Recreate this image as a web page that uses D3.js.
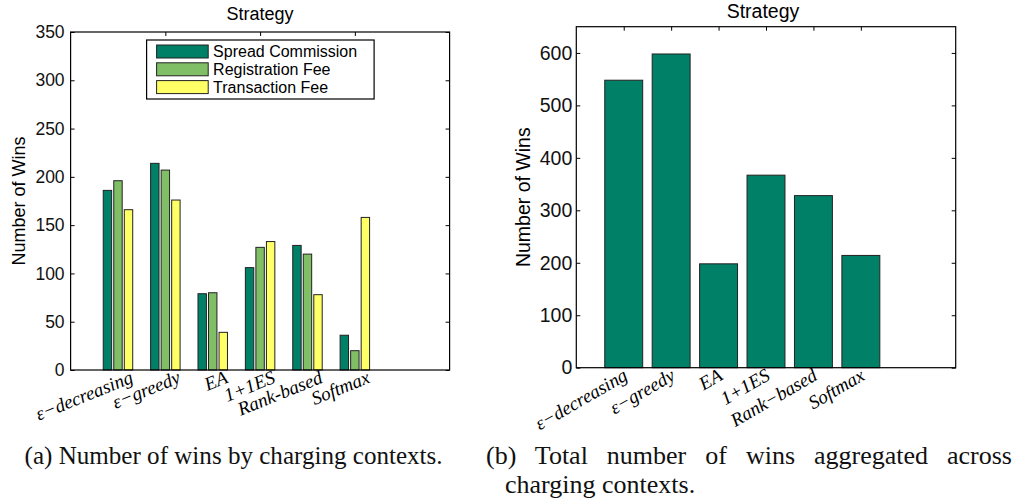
<!DOCTYPE html>
<html>
<head>
<meta charset="utf-8">
<script src="https://cdn.jsdelivr.net/npm/d3@7"></script>
<style>
  body { margin: 0; background: #fff; }
  svg { display: block; }
  .tick text { fill: #111; }
</style>
</head>
<body>
<script>
// datos
const strategies  = ["ε−decreasing", "ε−greedy", "EA", "1+1ES", "Rank-based", "Softmax"];
const strategiesB = ["ε−decreasing", "ε−greedy", "EA", "1+1ES", "Rank−based", "Softmax"];
const contexts = ["Spread Commission", "Registration Fee", "Transaction Fee"];

const spreadCommission = [186, 214, 79, 106, 129, 36];
const registrationFee  = [196, 207, 80, 127, 120, 20];
const transactionFee   = [166, 176, 39, 133, 78, 158];
const totalWins        = [548, 598, 198, 367, 328, 214];

const yTicksA = [0, 50, 100, 150, 200, 250, 300, 350];
const yTicksB = [0, 100, 200, 300, 400, 500, 600];
const xTopTicksA = [2, 4, 6];
const xTopTicksB = [1, 2, 3, 4, 5, 6];

const colors = ["#008066", "#80bf66", "#ffff66"];   // colormap summer
const sans = "'Liberation Sans', Arial, sans-serif";
const serif = "'Liberation Serif', 'Times New Roman', serif";

const svg = d3.select("body").append("svg")
  .attr("width", 1014)
  .attr("height", 501);

// ---------- (a) barras agrupadas ----------
const a = { left: 70.6, top: 32, width: 379, height: 338 };
const gA = svg.append("g").attr("transform", `translate(${a.left},${a.top})`);

const xA = d3.scaleLinear().domain([0, 8]).range([0, a.width]);
const yA = d3.scaleLinear().domain([0, 350]).range([a.height, 0]);
const unitA = xA(1) - xA(0);
const groupW = 3 / 4.5;
const xInner = d3.scaleBand()
  .domain(contexts)
  .range([-groupW / 2 * unitA, groupW / 2 * unitA])
  .paddingInner(0.2)
  .paddingOuter(0.1);

function styleAxis(g, size) {
  g.select(".domain").remove();
  g.selectAll(".tick line").attr("stroke", "#000");
  g.selectAll(".tick text").attr("font-family", sans).attr("font-size", size);
}

gA.append("g")
  .call(d3.axisLeft(yA).tickValues(yTicksA).tickSizeInner(-4).tickSizeOuter(0).tickPadding(6))
  .call(styleAxis, 17.5);
gA.append("g")
  .attr("transform", `translate(${a.width},0)`)
  .call(d3.axisRight(yA).tickValues(yTicksA).tickSizeInner(-4).tickSizeOuter(0).tickFormat(""))
  .call(styleAxis, 17.5);
gA.append("g")
  .call(d3.axisTop(xA).tickValues(xTopTicksA).tickSizeInner(-4).tickSizeOuter(0).tickFormat(""))
  .call(styleAxis, 17.5);

const seriesA = [spreadCommission, registrationFee, transactionFee];
seriesA.forEach((vals, s) => {
  gA.append("g").selectAll("rect")
    .data(vals)
    .join("rect")
      .attr("x", (d, i) => xA(i + 1) + xInner(contexts[s]))
      .attr("y", d => yA(d))
      .attr("width", xInner.bandwidth())
      .attr("height", d => a.height - yA(d))
      .attr("fill", colors[s])
      .attr("stroke", "#222")
      .attr("stroke-width", 1);
});

gA.append("rect")
  .attr("width", a.width).attr("height", a.height)
  .attr("fill", "none").attr("stroke", "#000").attr("stroke-width", 1.2);

gA.append("text")
  .attr("x", a.width / 2).attr("y", -12)
  .attr("text-anchor", "middle")
  .attr("font-family", sans).attr("font-size", 18)
  .text("Strategy");

gA.append("text")
  .attr("transform", `translate(${25 - a.left},${a.height / 2}) rotate(-90)`)
  .attr("text-anchor", "middle")
  .attr("font-family", sans).attr("font-size", 18)
  .text("Number of Wins");

gA.selectAll("text.xl")
  .data(strategies)
  .join("text")
    .attr("class", "xl")
    .attr("transform", (d, i) => `translate(${xA(i + 1) + 11},${a.height - 1}) rotate(-22)`)
    .attr("text-anchor", "end")
    .attr("dy", "0.75em")
    .attr("font-family", serif).attr("font-style", "italic").attr("font-size", 19)
    .text(d => d);

// leyenda
const leg = gA.append("g").attr("transform", "translate(76,8)");
leg.append("rect")
  .attr("width", 227.5).attr("height", 59)
  .attr("fill", "#fff").attr("stroke", "#000").attr("stroke-width", 1.2);
contexts.forEach((c, i) => {
  leg.append("rect")
    .attr("x", 10).attr("y", 5 + i * 17.8)
    .attr("width", 51.6).attr("height", 13)
    .attr("fill", colors[i]).attr("stroke", "#222");
  leg.append("text")
    .attr("x", 66.5).attr("y", 5 + i * 17.8 + 6.5)
    .attr("dy", "0.36em")
    .attr("font-family", sans).attr("font-size", 16)
    .text(c);
});

// ---------- (b) total ----------
const b = { left: 576.3, top: 26.7, width: 379.4, height: 341 };
const gB = svg.append("g").attr("transform", `translate(${b.left},${b.top})`);

const xB = d3.scaleLinear().domain([0, 8]).range([0, b.width]);
const yB = d3.scaleLinear().domain([0, 650]).range([b.height, 0]);
const barW = 0.8 * (xB(1) - xB(0));

gB.append("g")
  .call(d3.axisLeft(yB).tickValues(yTicksB).tickSizeInner(-4).tickSizeOuter(0).tickPadding(4))
  .call(styleAxis, 19.5);
gB.append("g")
  .attr("transform", `translate(${b.width},0)`)
  .call(d3.axisRight(yB).tickValues(yTicksB).tickSizeInner(-4).tickSizeOuter(0).tickFormat(""))
  .call(styleAxis, 19.5);
gB.append("g")
  .call(d3.axisTop(xB).tickValues(xTopTicksB).tickSizeInner(-4).tickSizeOuter(0).tickFormat(""))
  .call(styleAxis, 19.5);

gB.append("g").selectAll("rect")
  .data(totalWins)
  .join("rect")
    .attr("x", (d, i) => xB(i + 1) - barW / 2)
    .attr("y", d => yB(d))
    .attr("width", barW)
    .attr("height", d => b.height - yB(d))
    .attr("fill", colors[0])
    .attr("stroke", "#222")
    .attr("stroke-width", 1);

gB.append("rect")
  .attr("width", b.width).attr("height", b.height)
  .attr("fill", "none").attr("stroke", "#000").attr("stroke-width", 1.2);

gB.append("text")
  .attr("x", b.width / 2 - 3).attr("y", -8.5)
  .attr("text-anchor", "middle")
  .attr("font-family", sans).attr("font-size", 19.5)
  .text("Strategy");

gB.append("text")
  .attr("transform", `translate(${530 - b.left},${b.height / 2}) rotate(-90)`)
  .attr("text-anchor", "middle")
  .attr("font-family", sans).attr("font-size", 19.5)
  .text("Number of Wins");

gB.selectAll("text.xl")
  .data(strategiesB)
  .join("text")
    .attr("class", "xl")
    .attr("transform", (d, i) => `translate(${xB(i + 1) - 2},${b.height - 1}) rotate(-30)`)
    .attr("text-anchor", "end")
    .attr("dy", "0.75em")
    .attr("font-family", serif).attr("font-style", "italic").attr("font-size", 19)
    .text(d => d);

// ---------- pies de figura ----------
const cap = svg.append("g")
  .attr("font-family", serif).attr("fill", "#111");
cap.append("text").attr("x", 24.6).attr("y", 464)
  .attr("font-size", 26)
  .attr("textLength", 418).attr("lengthAdjust", "spacingAndGlyphs")
  .text("(a) Number of wins by charging contexts.");
const capB = cap.append("text").attr("x", 486).attr("y", 464)
  .attr("font-size", 26)
  .text("(b) Total number of wins aggregated across");
// justificado: repartir el hueco entre las palabras
const natural = capB.node().getComputedTextLength();
capB.attr("word-spacing", (526 - natural) / 6);
cap.append("text").attr("x", 505).attr("y", 493)
  .attr("font-size", 26)
  .text("charging contexts.");
</script>
</body>
</html>
